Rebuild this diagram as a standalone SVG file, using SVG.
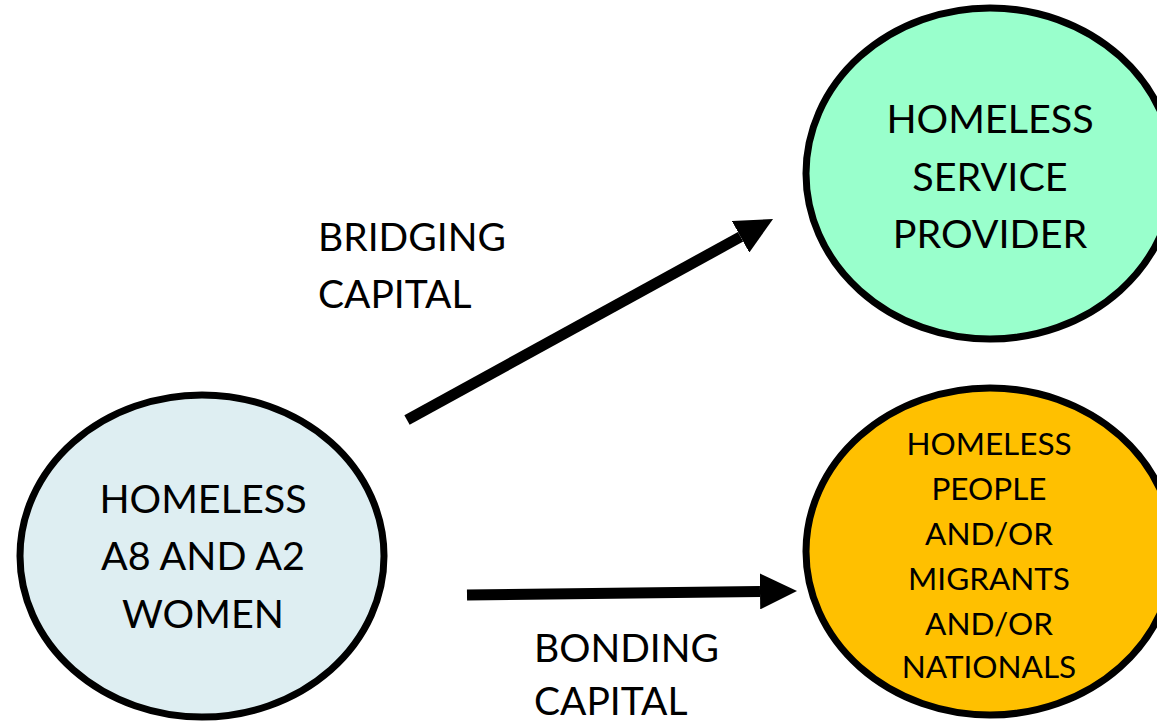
<svg xmlns="http://www.w3.org/2000/svg" width="1157" height="723" viewBox="0 0 1157 723">
  <style>
    .node { stroke: #000; stroke-width: 7; }
    .big { font-family: Lato, "Liberation Sans", sans-serif; font-size: 39.5px; fill: #000; text-anchor: middle; }
    .small { font-family: Lato, "Liberation Sans", sans-serif; font-size: 31.5px; fill: #000; text-anchor: middle; }
    .label { font-family: Lato, "Liberation Sans", sans-serif; font-size: 39px; fill: #000; }
    .conn { stroke: #000; stroke-width: 11; fill: none; marker-end: url(#head); }
  </style>
  <defs>
    <marker id="head" markerUnits="userSpaceOnUse" markerWidth="37" markerHeight="36" viewBox="0 0 37 36" refX="0" refY="18" orient="auto">
      <path d="M0,0 L37,18 L0,36 z" fill="#000"/>
    </marker>
  </defs>
  <rect width="1157" height="723" fill="#fff"/>

  <g id="women">
    <ellipse class="node" cx="202" cy="556" rx="182" ry="161" fill="#DEEEF2"/>
    <text class="big" x="203" y="513">HOMELESS</text>
    <text class="big" x="203" y="570">A8 AND A2</text>
    <text class="big" x="203" y="628">WOMEN</text>
  </g>

  <g id="provider">
    <ellipse class="node" cx="990" cy="173.5" rx="184" ry="165.5" fill="#99FFCC"/>
    <text class="big" x="990" y="133">HOMELESS</text>
    <text class="big" x="990" y="191">SERVICE</text>
    <text class="big" x="990" y="248">PROVIDER</text>
  </g>

  <g id="people">
    <ellipse class="node" cx="990" cy="551.5" rx="184" ry="163.5" fill="#FFC000"/>
    <text class="small" x="989" y="455">HOMELESS</text>
    <text class="small" x="989" y="500">PEOPLE</text>
    <text class="small" x="989" y="545">AND/OR</text>
    <text class="small" x="989" y="590">MIGRANTS</text>
    <text class="small" x="989" y="635">AND/OR</text>
    <text class="small" x="989" y="678">NATIONALS</text>
  </g>

  <g id="connectors">
    <line class="conn" x1="407" y1="420" x2="740.6" y2="236.8"/>
    <line class="conn" x1="467" y1="595" x2="760" y2="591.4"/>
    <text class="label" x="318" y="251">BRIDGING</text>
    <text class="label" x="318" y="308">CAPITAL</text>
    <text class="label" x="534" y="662">BONDING</text>
    <text class="label" x="534" y="715">CAPITAL</text>
  </g>
</svg>
